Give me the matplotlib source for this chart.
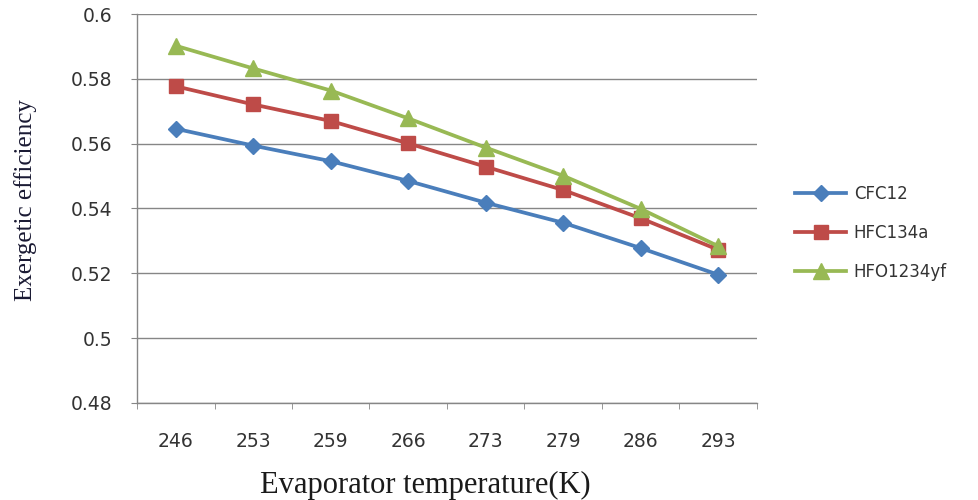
import matplotlib
matplotlib.use("Agg")
import matplotlib.pyplot as plt
import numpy as np

categories = ["246", "253", "259", "266", "273", "279", "286", "293"]
cfc12 = [0.5646, 0.5594, 0.5546, 0.5485, 0.5418, 0.5356, 0.5278, 0.5196]
hfc134a = [0.5777, 0.5721, 0.5670, 0.5601, 0.5529, 0.5457, 0.5370, 0.5273]
hfo1234yf = [0.5902, 0.5832, 0.5764, 0.5678, 0.5588, 0.5501, 0.5399, 0.5284]
yticks = [0.48, 0.5, 0.52, 0.54, 0.56, 0.58, 0.6]
ytick_labels = ["0.48", "0.5", "0.52", "0.54", "0.56", "0.58", "0.6"]

fig = plt.figure(figsize=(9.79, 5.0), dpi=100)
ax = fig.add_axes([0.140, 0.194, 0.633, 0.778])

x = np.arange(len(categories))
grid_c = "#868686"
ax.set_ylim(0.48, 0.6)
ax.set_xlim(-0.5, len(categories) - 0.5)
ax.set_yticks(yticks)
ax.set_yticklabels(ytick_labels)
ax.yaxis.grid(True, color=grid_c, lw=1.0)
ax.set_axisbelow(True)

ax.plot(x, cfc12, color="#4A7EBB", lw=2.7, marker="D", ms=8, label="CFC12", zorder=3)
ax.plot(x, hfc134a, color="#BE4B48", lw=2.7, marker="s", ms=10, label="HFC134a", zorder=3)
ax.plot(x, hfo1234yf, color="#98B954", lw=2.7, marker="^", ms=11, label="HFO1234yf", zorder=3)

ax.set_xticks(x)
ax.set_xticklabels(categories)
ax.set_xticks(np.arange(-0.5, len(categories), 1.0), minor=True)
ax.tick_params(axis="x", which="major", length=0, pad=21, labelsize=13.5, labelcolor="#333333")
ax.tick_params(axis="x", which="minor", length=4, color=grid_c, direction="out")
ax.tick_params(axis="y", length=4, color=grid_c, direction="out", pad=14, labelsize=13.5, labelcolor="#333333")

for s in ["top", "right"]:
    ax.spines[s].set_visible(False)
for s in ["left", "bottom"]:
    ax.spines[s].set_color(grid_c)
    ax.spines[s].set_linewidth(1.0)

ax.set_ylabel("Exergetic efficiency", family="Liberation Serif", fontsize=18, color="#1a1a33")
ax.yaxis.set_label_coords(-0.161, 0.522)
ax.set_xlabel("Evaporator temperature(K)", family="Liberation Serif", fontsize=22, color="#1a1a1a")
ax.xaxis.set_label_coords(0.465, -0.175)

leg = ax.legend(loc="center left", bbox_to_anchor=(1.037, 0.437), frameon=False,
                fontsize=12, handlelength=3.1, labelspacing=1.25, handletextpad=0.45)
for t in leg.get_texts():
    t.set_color("#333333")

fig.savefig("out.png", dpi=100)
